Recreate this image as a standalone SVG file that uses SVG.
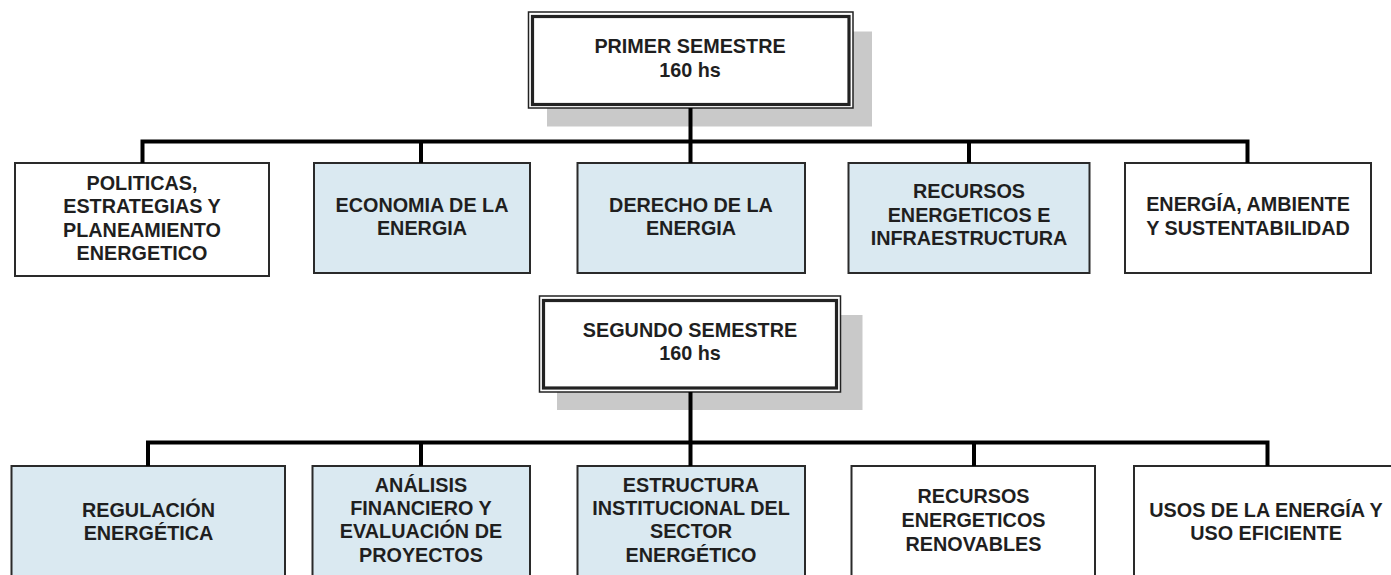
<svg xmlns="http://www.w3.org/2000/svg" width="1391" height="575" viewBox="0 0 1391 575">
<style>
.t{font-family:"Liberation Sans",Arial,sans-serif;font-weight:bold;font-size:19.8px;fill:#1f1f1f;text-anchor:middle}
.box{stroke:#2a2a2a;stroke-width:2}
.w{fill:#ffffff}
.b{fill:#dae9f1}
.sh{fill:#c9c9c9}
.outer{fill:#ffffff;stroke:#222;stroke-width:1.5}
.inner{fill:none;stroke:#222;stroke-width:3.2}
.conn{fill:none;stroke:#000;stroke-width:4}
</style>
<rect width="1391" height="575" fill="#ffffff"/>
<g id="primer">
<rect class="sh" x="547" y="31.5" width="325" height="95"/>
<rect class="outer" x="528.5" y="12" width="324.5" height="96"/>
<rect class="inner" x="532.5" y="16.5" width="316.5" height="88"/>
<text class="t" x="690" y="53">PRIMER SEMESTRE</text>
<text class="t" x="690" y="77">160 hs</text>
</g>
<g id="n1">
<rect class="box w" x="15" y="163" width="254" height="113"/>
<text class="t" x="142" y="189.5">POLITICAS,</text>
<text class="t" x="142" y="213">ESTRATEGIAS Y</text>
<text class="t" x="142" y="236.5">PLANEAMIENTO</text>
<text class="t" x="142" y="260">ENERGETICO</text>
</g>
<g id="n2">
<rect class="box b" x="314" y="163" width="216" height="110"/>
<text class="t" x="422" y="211.5">ECONOMIA DE LA</text>
<text class="t" x="422" y="235">ENERGIA</text>
</g>
<g id="n3">
<rect class="box b" x="577.5" y="163" width="227.5" height="110"/>
<text class="t" x="691" y="211.5">DERECHO DE LA</text>
<text class="t" x="691" y="235">ENERGIA</text>
</g>
<g id="n4">
<rect class="box b" x="848.5" y="163" width="241" height="110"/>
<text class="t" x="969" y="198.3">RECURSOS</text>
<text class="t" x="969" y="221.7">ENERGETICOS E</text>
<text class="t" x="969" y="245">INFRAESTRUCTURA</text>
</g>
<g id="n5">
<rect class="box w" x="1125" y="163" width="246" height="110"/>
<text class="t" x="1248" y="211">ENERGÍA, AMBIENTE</text>
<text class="t" x="1248" y="235">Y SUSTENTABILIDAD</text>
</g>
<g id="segundo">
<rect class="sh" x="557" y="315" width="305.5" height="95"/>
<rect class="outer" x="539.5" y="296" width="301" height="96"/>
<rect class="inner" x="543.5" y="300.5" width="293" height="87.5"/>
<text class="t" x="690" y="336.7">SEGUNDO SEMESTRE</text>
<text class="t" x="690" y="360">160 hs</text>
</g>
<g id="m1">
<rect class="box b" x="11.5" y="466" width="273.5" height="130"/>
<text class="t" x="148.5" y="516.7">REGULACIÓN</text>
<text class="t" x="148.5" y="540">ENERGÉTICA</text>
</g>
<g id="m2">
<rect class="box b" x="312.5" y="466" width="217.5" height="130"/>
<text class="t" x="421" y="491.7">ANÁLISIS</text>
<text class="t" x="421" y="515">FINANCIERO Y</text>
<text class="t" x="421" y="538.3">EVALUACIÓN DE</text>
<text class="t" x="421" y="561.7">PROYECTOS</text>
</g>
<g id="m3">
<rect class="box b" x="577.5" y="466" width="227.5" height="130"/>
<text class="t" x="691" y="491.7">ESTRUCTURA</text>
<text class="t" x="691" y="515">INSTITUCIONAL DEL</text>
<text class="t" x="691" y="538.3">SECTOR</text>
<text class="t" x="691" y="561.7">ENERGÉTICO</text>
</g>
<g id="m4">
<rect class="box w" x="851.5" y="466" width="243.5" height="130"/>
<text class="t" x="973.5" y="503.3">RECURSOS</text>
<text class="t" x="973.5" y="527.3">ENERGETICOS</text>
<text class="t" x="973.5" y="550.7">RENOVABLES</text>
</g>
<g id="m5">
<rect class="box w" x="1134" y="466" width="268" height="130"/>
<text class="t" x="1266" y="516.7">USOS DE LA ENERGÍA Y</text>
<text class="t" x="1266" y="540">USO EFICIENTE</text>
</g>
<g id="connectors">
<path class="conn" d="M142.5 163V141.5H1247.5V163M421 141.5V163M690.5 108V163M969 141.5V163"/>
<path class="conn" d="M148 466V442.5H1267.5V466M421 442.5V466M690.5 392V466M974 442.5V466"/>
</g>
</svg>
